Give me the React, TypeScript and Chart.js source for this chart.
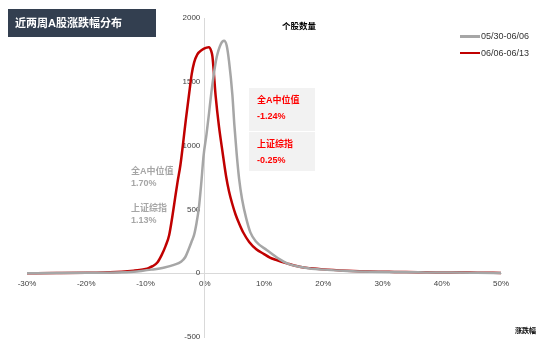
import React, { useEffect, useRef } from "react";
import { Chart, registerables } from "chart.js";

Chart.register(...registerables);

const seriesNames = ["05/30-06/06", "06/06-06/13"];
const seriesColors = ["#A6A6A6", "#C00000"];

const grayX = [-30, -25, -20, -15, -12, -10.7, -9, -6.8, -5.2, -4.0, -3.3, -2.7, -2.2, -1.8, -1.4, -1.0, -0.6, -0.2, 0.3, 0.72, 1.1, 1.55, 2.0, 2.7, 3.25, 3.7, 4.1, 4.66, 5.0, 5.4, 5.8, 6.3, 7.0, 7.7, 8.6, 10.5, 12.6, 14, 16, 18, 20, 24, 28, 32, 36, 40, 43, 46, 50];
const grayY = [0, 1, 3, 6, 12, 18, 28, 45, 65, 90, 125, 190, 250, 300, 390, 510, 700, 920, 1090, 1253, 1410, 1566, 1690, 1795, 1822, 1785, 1660, 1400, 1160, 930, 740, 580, 430, 320, 250, 180, 110, 75, 50, 35, 28, 18, 12, 9, 7, 5, 6, 3, 1];

const redX = [-30, -25, -20, -17, -15, -13, -12, -11, -10, -9.5, -8.8, -8, -7.3, -6.6, -6, -5.45, -5, -4.6, -4.1, -3.7, -3.2, -2.6, -2.2, -1.8, -1.25, -0.5, 0.3, 0.7, 1.1, 1.3, 1.85, 2.4, 3.0, 3.6, 4.1, 4.6, 5.2, 5.8, 6.5, 7.5, 8.7, 10, 11, 12, 14, 16, 18, 20, 24, 28, 32, 36, 40, 43, 46, 50];
const redY = [0, 1, 3, 6, 10, 16, 20, 25, 33, 40, 55, 84, 140, 214, 300, 450, 590, 712, 850, 1000, 1200, 1420, 1560, 1650, 1715, 1750, 1768, 1770, 1740, 1697, 1383, 1150, 950, 760, 640, 550, 460, 390, 319, 245, 188, 150, 123, 105, 75, 50, 38, 30, 20, 13, 10, 8, 5, 7, 4, 2];

const xTicks = [-30, -20, -10, 0, 10, 20, 30, 40, 50];
const yTicks = [-500, 0, 500, 1000, 1500, 2000];

const title = "近两周A股涨跌幅分布";
const yTitle = "个股数量";
const xTitle = "涨跌幅";
const noteRed = [["全A中位值", "-1.24%"], ["上证综指", "-0.25%"]];
const noteGray = [["全A中位值", "1.70%"], ["上证综指", "1.13%"]];

const FONT = "'Liberation Sans', 'Noto Sans CJK SC', Arial, sans-serif";

export default function App() {
  const ref = useRef<HTMLCanvasElement | null>(null);

  useEffect(() => {
    if (!ref.current) return;
    const toPts = (xs: number[], ys: number[]) => xs.map((x, i) => ({ x, y: ys[i] }));
    const chart = new Chart(ref.current, {
      type: "line",
      data: {
        datasets: [
          {
            label: seriesNames[0],
            data: toPts(grayX, grayY),
            borderColor: seriesColors[0],
            backgroundColor: seriesColors[0],
            borderWidth: 2.5,
            pointRadius: 0,
            cubicInterpolationMode: "monotone",
            fill: false,
          },
          {
            label: seriesNames[1],
            data: toPts(redX, redY),
            borderColor: seriesColors[1],
            backgroundColor: seriesColors[1],
            borderWidth: 2.5,
            pointRadius: 0,
            cubicInterpolationMode: "monotone",
            fill: false,
          },
        ],
      },
      options: {
        responsive: false,
        animation: false,
        layout: { padding: { left: 27, right: 49, top: 18, bottom: 21 } },
        plugins: { legend: { display: false }, tooltip: { enabled: false } },
        scales: {
          x: {
            type: "linear",
            min: -30,
            max: 50,
            position: { y: 0 },
            afterBuildTicks: (s: any) => { s.ticks = xTicks.map((v) => ({ value: v })); },
            ticks: {
              callback: (v: any) => v + "%",
              font: { size: 8, family: FONT },
              color: "#404040",
              padding: 6,
              maxRotation: 0,
            },
            grid: { display: false, drawTicks: false },
            border: { display: true, color: "#D9D9D9", width: 1 },
          },
          y: {
            type: "linear",
            min: -500,
            max: 2000,
            position: { x: 0 },
            afterBuildTicks: (s: any) => { s.ticks = yTicks.map((v) => ({ value: v })); },
            ticks: {
              callback: (v: any) => String(v) + "  ",
              font: { size: 8, family: FONT },
              color: "#404040",
              padding: 5,
            },
            grid: { display: false, drawTicks: false },
            border: { display: true, color: "#D9D9D9", width: 1 },
          },
        },
      },
    });
    return () => chart.destroy();
  }, []);

  const abs = (l: number, t: number, extra: any = {}) => ({ position: "absolute" as const, left: l, top: t, ...extra });

  return (
    <div style={{ position: "absolute", left: 0, top: 0, width: 550, height: 358, background: "#fff", fontFamily: FONT, overflow: "hidden" }}>
      <canvas ref={ref} width={550} height={358} style={{ position: "absolute", left: 0, top: 0, width: 550, height: 358 }} />
      <div style={abs(8, 9, { width: 148, height: 28, background: "#333F50" })}>
        <div style={{ position: "absolute", left: 7, top: 0, lineHeight: "28px", color: "#fff", fontWeight: "bold", fontSize: 11, whiteSpace: "nowrap" }}>{title}</div>
      </div>
      <div style={abs(282, 20, { fontSize: 8.5, fontWeight: "bold", color: "#000", lineHeight: "12px", whiteSpace: "nowrap" })}>{yTitle}</div>
      <div style={abs(515, 325, { fontSize: 7, fontWeight: "bold", color: "#000", lineHeight: "12px", whiteSpace: "nowrap" })}>{xTitle}</div>
      {seriesNames.map((n, i) => (
        <div key={n} style={abs(460, 30 + i * 16.5, { height: 12, whiteSpace: "nowrap" })}>
          <div style={{ position: "absolute", left: 0, top: 5, width: 20, height: 2.5, background: seriesColors[i] }} />
          <div style={{ position: "absolute", left: 21, top: 0, fontSize: 9, lineHeight: "12px", color: "#333" }}>{n}</div>
        </div>
      ))}
      <div style={abs(249, 88, { width: 66, height: 43, background: "#F2F2F2" })} />
      <div style={abs(249, 132, { width: 66, height: 39, background: "#F2F2F2" })} />
      {noteRed.map((p, i) => (
        <React.Fragment key={"r" + i}>
          <div style={abs(257, 94 + i * 43.5, { fontSize: 9, fontWeight: "bold", color: "#FF0000", lineHeight: "12px", whiteSpace: "nowrap" })}>{p[0]}</div>
          <div style={abs(257, 110 + i * 43.5, { fontSize: 9, fontWeight: "bold", color: "#FF0000", lineHeight: "12px", whiteSpace: "nowrap" })}>{p[1]}</div>
        </React.Fragment>
      ))}
      {noteGray.map((p, i) => (
        <React.Fragment key={"g" + i}>
          <div style={abs(131, 165 + i * 37, { fontSize: 9, fontWeight: "bold", color: "#A6A6A6", lineHeight: "12px", whiteSpace: "nowrap" })}>{p[0]}</div>
          <div style={abs(131, 177 + i * 37, { fontSize: 9, fontWeight: "bold", color: "#A6A6A6", lineHeight: "12px", whiteSpace: "nowrap" })}>{p[1]}</div>
        </React.Fragment>
      ))}
    </div>
  );
}
